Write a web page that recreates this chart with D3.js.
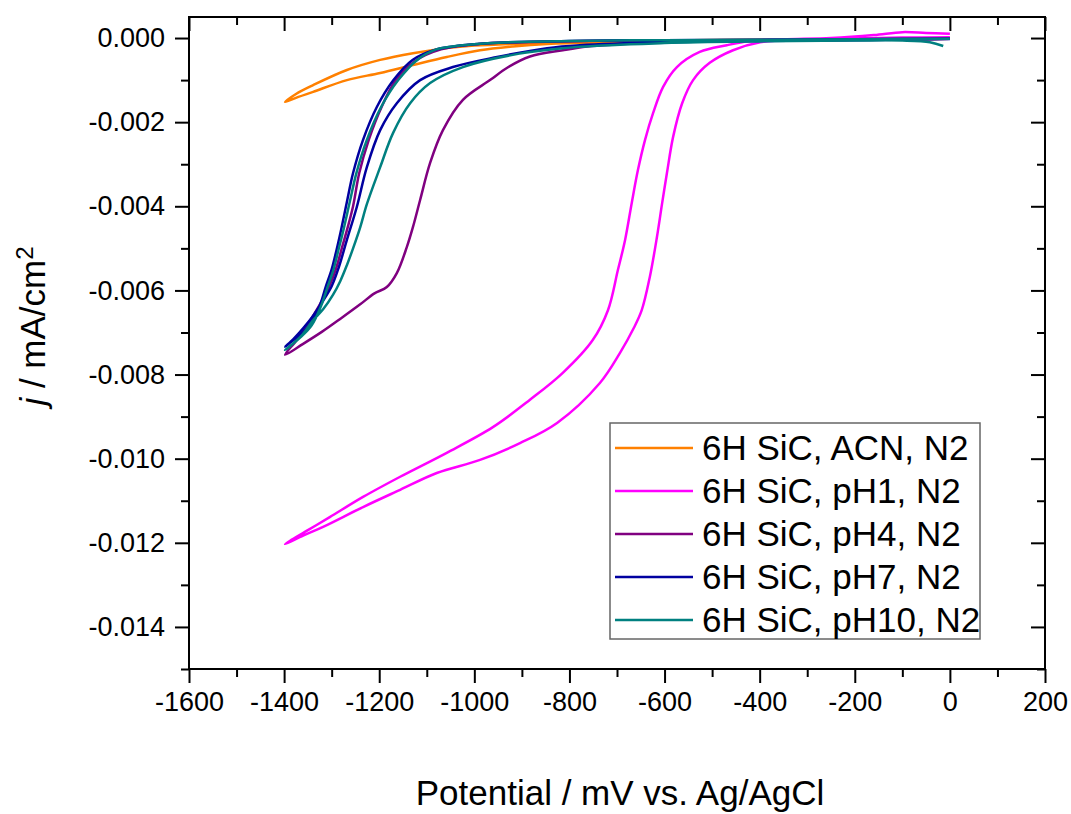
<!DOCTYPE html>
<html>
<head>
<meta charset="utf-8">
<script src="https://cdn.jsdelivr.net/npm/d3@7"></script>
<style>
body { margin: 0; background: #fff; }
text { font-family: Arial, "Liberation Sans", sans-serif; fill: #000; }
</style>
</head>
<body>
<svg id="chart" width="1071" height="814"></svg>
<script>
// CV loops: potential (mV) and current density (mA/cm2)
var acnPotential = [0, -200, -400, -600, -800, -900, -1000, -1058, -1129, -1198, -1268, -1339, -1375, -1398,
    -1370, -1339, -1268, -1198, -1129, -1058, -988, -919, -847, -700, -500, -300, -100, 0];
var acnCurrent = [-0.00002, -0.00003, -0.00004, -0.00006, -0.0001, -0.00013, -0.00018, -0.00024, -0.00036, -0.00052, -0.00076, -0.00112, -0.00133, -0.00152,
    -0.0014, -0.00128, -0.001, -0.00083, -0.00064, -0.00045, -0.00029, -0.0002, -0.00014, -0.0001, -0.00007, -0.00005, -0.00003, -0.00002];

var ph1Potential = [0, -100, -200, -300, -399, -456, -505, -540, -563, -582, -595, -605, -616, -631, -648, -665, -694, -736, -826, -904, -988, -1079, -1156, -1234, -1318, -1360, -1398,
    -1350, -1304, -1234, -1156, -1058, -961, -883, -814, -751, -719, -698, -683, -669, -656, -641, -624, -603, -574, -526, -469, -420, -350, -250, -160, -100, -50, 0];
var ph1Current = [0.00002, 0.00001, -0.00001, -0.00004, -0.0001, -0.00029, -0.00059, -0.001, -0.00155, -0.00235, -0.00321, -0.00392, -0.00473, -0.00568, -0.00647, -0.0069, -0.00749, -0.0082, -0.00915, -0.00963, -0.01003, -0.01034, -0.01074, -0.01115, -0.01162, -0.01183, -0.01203,
    -0.0117, -0.01139, -0.01091, -0.01043, -0.00986, -0.00925, -0.0086, -0.00796, -0.00718, -0.00647, -0.00551, -0.0048, -0.00392, -0.00314, -0.00242, -0.00178, -0.00116, -0.00069, -0.00033, -0.00017, -0.00007, -0.00003, 0.0, 0.00007, 0.00014, 0.00012, 0.0001];

var ph4Potential = [0, -200, -400, -500, -600, -700, -763, -814, -883, -930, -967, -1024, -1066, -1093, -1114, -1129, -1142, -1163, -1184, -1210, -1240, -1280, -1320, -1360, -1398,
    -1375, -1350, -1325, -1305, -1290, -1278, -1266, -1255, -1242, -1222, -1195, -1165, -1125, -1070, -990, -900, -700, -500, -300, -100, 0];
var ph4Current = [-0.00002, -0.00003, -0.00005, -0.00007, -0.0001, -0.00015, -0.0002, -0.00029, -0.00044, -0.0007, -0.001, -0.00147, -0.00219, -0.00297, -0.00385, -0.00449, -0.00497, -0.00559, -0.00592, -0.00607, -0.00633, -0.00666, -0.00698, -0.00727, -0.00753,
    -0.0072, -0.0068, -0.00634, -0.0059, -0.00545, -0.00497, -0.00449, -0.004, -0.00321, -0.00242, -0.00164, -0.001, -0.00055, -0.00027, -0.00014, -0.0001, -0.00006, -0.00005, -0.00004, -0.00003, -0.00002];

var ph7Potential = [0, -200, -400, -600, -800, -950, -1030, -1080, -1130, -1170, -1205, -1234, -1255, -1268, -1280, -1290, -1300, -1312, -1325, -1345, -1365, -1385, -1398,
    -1380, -1360, -1340, -1320, -1300, -1285, -1268, -1247, -1226, -1198, -1163, -1114, -1045, -952, -847, -778, -600, -400, -200, 0];
var ph7Current = [-0.00002, -0.00003, -0.00004, -0.00005, -0.00007, -0.00011, -0.00018, -0.00027, -0.00052, -0.001, -0.00164, -0.00242, -0.00321, -0.0039, -0.00455, -0.00505, -0.0055, -0.0059, -0.00636, -0.0068, -0.00705, -0.00722, -0.00734,
    -0.00715, -0.0069, -0.00662, -0.00628, -0.0059, -0.00545, -0.0048, -0.00401, -0.00307, -0.00219, -0.00155, -0.001, -0.00069, -0.00045, -0.00024, -0.00017, -0.0001, -0.00007, -0.00005, -0.00003];

var ph10Potential = [0, -200, -400, -600, -800, -950, -1030, -1080, -1120, -1160, -1196, -1226, -1248, -1262, -1275, -1286, -1296, -1308, -1322, -1342, -1364, -1385, -1398,
    -1380, -1360, -1340, -1318, -1297, -1282, -1268, -1255, -1240, -1226, -1198, -1171, -1135, -1093, -1024, -919, -778, -600, -400, -200, -100, -42, -14];
var ph10Current = [-0.00002, -0.00003, -0.00004, -0.00005, -0.00007, -0.00011, -0.00018, -0.00027, -0.00052, -0.001, -0.00164, -0.00242, -0.00321, -0.0039, -0.00455, -0.00505, -0.0055, -0.0059, -0.00636, -0.00683, -0.0071, -0.0073, -0.00742,
    -0.00725, -0.00703, -0.00672, -0.00645, -0.0061, -0.00578, -0.0054, -0.005, -0.0045, -0.00395, -0.00307, -0.00226, -0.00155, -0.00107, -0.00069, -0.0004, -0.00021, -0.00012, -0.00008, -0.00006, -0.00006, -0.0001, -0.00019];

var seriesNames = ["6H SiC, ACN, N2", "6H SiC, pH1, N2", "6H SiC, pH4, N2", "6H SiC, pH7, N2", "6H SiC, pH10, N2"];
var seriesColors = ["#ff8000", "#ff00ff", "#800080", "#0000a0", "#008080"];

var xTicks = [-1600, -1400, -1200, -1000, -800, -600, -400, -200, 0, 200];
var yTicks = [0, -0.002, -0.004, -0.006, -0.008, -0.010, -0.012, -0.014];

var svg = d3.select("#chart");
var plotLeft = 189, plotRight = 1045, plotTop = 17, plotBottom = 669;

var x = d3.scaleLinear().domain([-1600, 200]).range([plotLeft, plotRight]);
var y = d3.scaleLinear().domain([-0.015, 0.0005]).range([plotBottom, plotTop]);

var xMinor = d3.range(-1600, 201, 100).filter(function (d) { return xTicks.indexOf(d) < 0; });
var yMinor = [-0.001, -0.003, -0.005, -0.007, -0.009, -0.011, -0.013, -0.015];

function styleAxis(g) {
    g.select(".domain").remove();
    g.selectAll("line").attr("stroke", "#000").attr("stroke-width", 2);
}

// bottom axis with labels, ticks out
svg.append("g").attr("transform", "translate(0," + plotBottom + ")")
    .call(d3.axisBottom(x).tickValues(xTicks).tickSize(14).tickPadding(9).tickFormat(function (d) { return String(d); }))
    .call(styleAxis)
    .selectAll("text").style("font-size", "27px");
svg.append("g").attr("transform", "translate(0," + plotBottom + ")")
    .call(d3.axisBottom(x).tickValues(xMinor).tickSize(8).tickFormat(""))
    .call(styleAxis);

// top mirror, ticks in
svg.append("g").attr("transform", "translate(0," + plotTop + ")")
    .call(d3.axisBottom(x).tickValues(xTicks).tickSize(14).tickFormat(""))
    .call(styleAxis);
svg.append("g").attr("transform", "translate(0," + plotTop + ")")
    .call(d3.axisBottom(x).tickValues(xMinor).tickSize(8).tickFormat(""))
    .call(styleAxis);

// left axis with labels, ticks out
svg.append("g").attr("transform", "translate(" + plotLeft + ",0)")
    .call(d3.axisLeft(y).tickValues(yTicks).tickSize(14).tickPadding(10).tickFormat(function (d) { return d.toFixed(3); }))
    .call(styleAxis)
    .selectAll("text").style("font-size", "27px");
svg.append("g").attr("transform", "translate(" + plotLeft + ",0)")
    .call(d3.axisLeft(y).tickValues(yMinor).tickSize(8).tickFormat(""))
    .call(styleAxis);

// right mirror, ticks in
svg.append("g").attr("transform", "translate(" + plotRight + ",0)")
    .call(d3.axisLeft(y).tickValues(yTicks).tickSize(14).tickFormat(""))
    .call(styleAxis);
svg.append("g").attr("transform", "translate(" + plotRight + ",0)")
    .call(d3.axisLeft(y).tickValues(yMinor).tickSize(8).tickFormat(""))
    .call(styleAxis);

// frame
svg.append("rect")
    .attr("x", plotLeft).attr("y", plotTop)
    .attr("width", plotRight - plotLeft).attr("height", plotBottom - plotTop)
    .attr("fill", "none").attr("stroke", "#000").attr("stroke-width", 2);

// curves
var series = [
    [acnPotential, acnCurrent],
    [ph1Potential, ph1Current],
    [ph4Potential, ph4Current],
    [ph7Potential, ph7Current],
    [ph10Potential, ph10Current]
];

var line = d3.line()
    .x(function (d) { return x(d[0]); })
    .y(function (d) { return y(d[1]); })
    .curve(d3.curveCatmullRom.alpha(0.5));

series.forEach(function (s, i) {
    var pts = d3.zip(s[0], s[1]);
    svg.append("path")
        .datum(pts)
        .attr("d", line)
        .attr("fill", "none")
        .attr("stroke", seriesColors[i])
        .attr("stroke-width", 2.5)
        .attr("stroke-linejoin", "round");
});

// legend
var legend = svg.append("g");
legend.append("rect")
    .attr("x", 610).attr("y", 423).attr("width", 370).attr("height", 216)
    .attr("fill", "#fff").attr("stroke", "#666").attr("stroke-width", 1.5);
var items = legend.selectAll("g.item")
    .data(seriesNames)
    .enter().append("g")
    .attr("class", "item")
    .attr("transform", function (d, i) { return "translate(0," + (448 + i * 43) + ")"; });
items.append("line")
    .attr("x1", 615).attr("x2", 693)
    .attr("stroke", function (d, i) { return seriesColors[i]; })
    .attr("stroke-width", 2.5);
items.append("text")
    .attr("x", 702).attr("dy", "0.35em")
    .style("font-size", "35px")
    .text(function (d) { return d; });

// axis titles
svg.append("text")
    .attr("x", 620).attr("y", 805)
    .attr("text-anchor", "middle")
    .style("font-size", "35px")
    .text("Potential / mV vs. Ag/AgCl");

var yTitle = svg.append("text")
    .attr("transform", "translate(45,326) rotate(-90)")
    .attr("text-anchor", "middle")
    .style("font-size", "35px");
yTitle.append("tspan").style("font-style", "italic").text("j");
yTitle.append("tspan").text(" / mA/cm");
yTitle.append("tspan").attr("dy", "-0.5em").style("font-size", "24px").text("2");
</script>
</body>
</html>
